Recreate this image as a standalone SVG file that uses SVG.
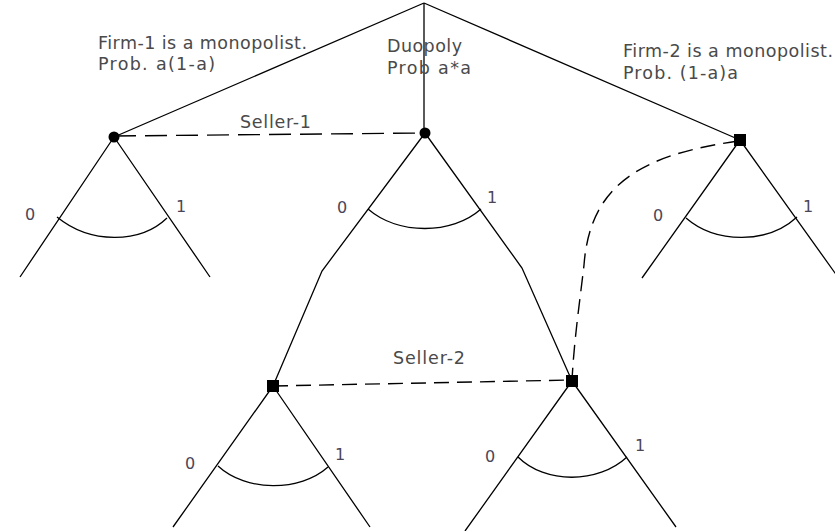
<svg xmlns="http://www.w3.org/2000/svg" width="835" height="531" viewBox="0 0 835 531">
<style>
.e{fill:none;stroke:#000;stroke-width:1.3}
.d1{fill:none;stroke:#000;stroke-width:1.4;stroke-dasharray:22 9}
.d2{fill:none;stroke:#000;stroke-width:1.4;stroke-dasharray:15 8}
.t{font-family:"DejaVu Sans",Verdana,sans-serif;font-size:17.5px;fill:#4a4a4a}
.n{font-family:"DejaVu Sans",Verdana,sans-serif;font-size:16px;fill:#4a4658}
</style>
<rect width="835" height="531" fill="#fff"/>
<g id="connectors">
<path class="e" d="M424,3 L114,137"/>
<path class="e" d="M424,3 L424,133"/>
<path class="e" d="M424,3 L740,140"/>
<path class="e" d="M114,137 L20,277 M114,137 L210,277"/>
<path class="e" d="M57,217 C90,244 140,244 167,218"/>
<path class="e" d="M425,133 L322,271 L273,386 M425,133 L522,268 L572,381"/>
<path class="e" d="M368,209 C398,235 452,235 481,209"/>
<path class="e" d="M740,140 L642,278 M740,140 L845,287"/>
<path class="e" d="M686,218 C716,244 768,244 797,217"/>
<path class="e" d="M273,386 L173,527 M273,386 L370,527"/>
<path class="e" d="M218,466 C246,492 300,492 328,467"/>
<path class="e" d="M572,381 L465,531 M572,381 L676,527"/>
<path class="e" d="M518,457 C545,484 598,484 627,457"/>
<path class="d1" d="M114,136 L424,133"/>
<path class="d2" d="M273,386 L572,380"/>
<path class="d2" d="M738,141 C640,155 590,185 584,265 C580,300 574,340 572,381"/>
</g>
<g id="root"><circle cx="424" cy="3" r="0.1" fill="#000"/></g>
<g id="firm1-node"><circle cx="114" cy="137" r="5.5" fill="#000"/></g>
<g id="duopoly-node"><circle cx="425" cy="133" r="5.5" fill="#000"/></g>
<g id="firm2-node"><rect x="734" y="134" width="12" height="12" fill="#000"/></g>
<g id="seller2-left"><rect x="267" y="380" width="12" height="12" fill="#000"/></g>
<g id="seller2-right"><rect x="566" y="375" width="12" height="12" fill="#000"/></g>
<g id="labels">
<text class="t" x="98" y="49" textLength="209" lengthAdjust="spacing">Firm-1 is a monopolist.</text>
<text class="t" x="98" y="70" textLength="117" lengthAdjust="spacing">Prob. a(1-a)</text>
<text class="t" x="387" y="52" textLength="75" lengthAdjust="spacing">Duopoly</text>
<text class="t" x="387" y="74" textLength="84" lengthAdjust="spacing">Prob a*a</text>
<text class="t" x="623" y="57" textLength="210" lengthAdjust="spacing">Firm-2 is a monopolist.</text>
<text class="t" x="623" y="79" textLength="115" lengthAdjust="spacing">Prob. (1-a)a</text>
<text class="t" x="240" y="128" textLength="71" lengthAdjust="spacing">Seller-1</text>
<text class="t" x="393" y="364" textLength="72" lengthAdjust="spacing">Seller-2</text>
<text class="n" x="25" y="220">0</text>
<text class="n" x="176" y="212">1</text>
<text class="n" x="337" y="213">0</text>
<text class="n" x="487" y="203">1</text>
<text class="n" x="653" y="221">0</text>
<text class="n" x="803" y="212">1</text>
<text class="n" x="185" y="469">0</text>
<text class="n" x="335" y="460">1</text>
<text class="n" x="485" y="462">0</text>
<text class="n" x="635" y="451">1</text>
</g>
</svg>
